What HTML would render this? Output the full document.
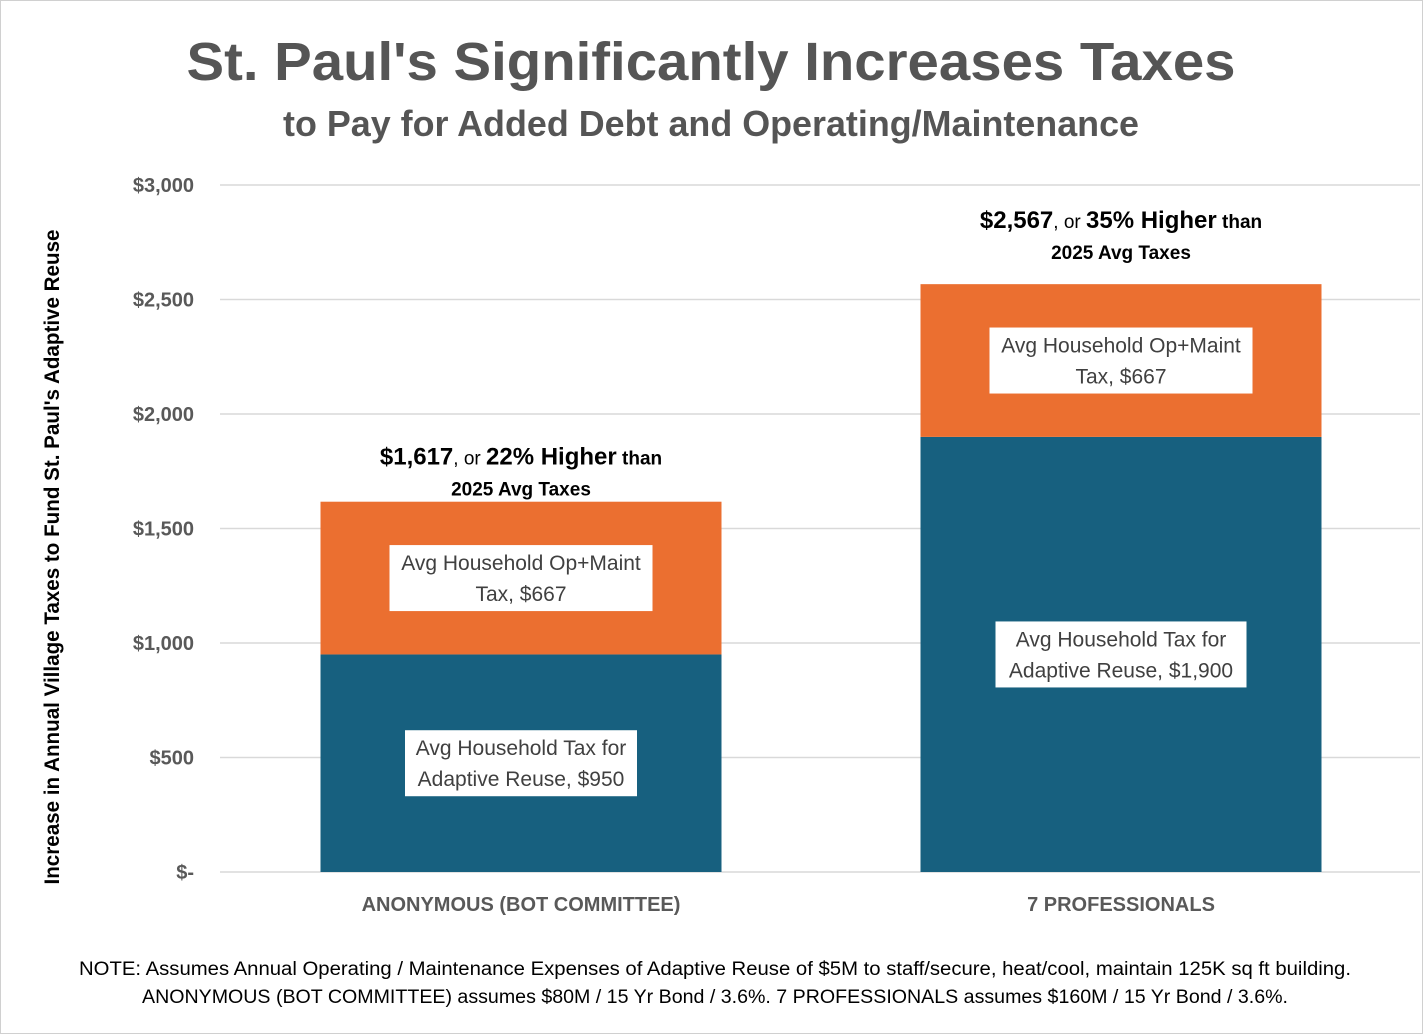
<!DOCTYPE html>
<html><head><meta charset="utf-8"><style>
html,body{margin:0;padding:0;background:#fff;}
svg{display:block;font-family:"Liberation Sans",sans-serif;}
</style></head><body>
<svg id="chart" width="1423" height="1034" viewBox="0 0 1423 1034" xmlns="http://www.w3.org/2000/svg">
<rect x="0.5" y="0.5" width="1422" height="1033" fill="#fff" stroke="#d0d0d0"/>
<text x="711" y="80" text-anchor="middle" font-size="54" font-weight="bold" fill="#555" textLength="1049" lengthAdjust="spacingAndGlyphs">St. Paul's Significantly Increases Taxes</text>
<text x="711" y="136" text-anchor="middle" font-size="36" font-weight="bold" fill="#555" textLength="856" lengthAdjust="spacingAndGlyphs">to Pay for Added Debt and Operating/Maintenance</text>
<g id="grid"></g>
<g id="bars"></g>
<text transform="translate(59,557) rotate(-90)" text-anchor="middle" font-size="21" font-weight="600" fill="#000" textLength="655" lengthAdjust="spacingAndGlyphs">Increase in Annual Village Taxes to Fund St. Paul's Adaptive Reuse</text>
<text x="715" y="975" text-anchor="middle" font-size="19" fill="#000" textLength="1272" lengthAdjust="spacingAndGlyphs">NOTE: Assumes Annual Operating / Maintenance Expenses of Adaptive Reuse of $5M to staff/secure,  heat/cool, maintain 125K sq ft building.</text>
<text x="715" y="1003" text-anchor="middle" font-size="19" fill="#000" textLength="1146" lengthAdjust="spacingAndGlyphs">ANONYMOUS (BOT COMMITTEE) assumes $80M / 15 Yr Bond / 3.6%.   7 PROFESSIONALS assumes $160M / 15 Yr Bond / 3.6%.</text>
</svg>
<script>
const categories = ["ANONYMOUS (BOT COMMITTEE)", "7 PROFESSIONALS"];
const adaptiveReuse = [950, 1900];
const opMaint = [667, 667];
const totals = [1617, 2567];
const pctHigher = ["22%", "35%"];
const yTicks = [0, 500, 1000, 1500, 2000, 2500, 3000];
const yTickLabels = ["$-", "$500", "$1,000", "$1,500", "$2,000", "$2,500", "$3,000"];

const NS = "http://www.w3.org/2000/svg";
const y0 = 872, pxPer = 687/3000;
const y = v => y0 - v*pxPer;
const bandStart = 220, bandW = 600, barW = 401;
const xc = i => bandStart + bandW*i + bandW/2 + 1;
function mk(tag, attrs, parent){const e=document.createElementNS(NS,tag);for(const k in attrs)e.setAttribute(k,attrs[k]);parent.appendChild(e);return e;}
const grid=document.getElementById('grid'), bars=document.getElementById('bars');
yTicks.forEach((t,i)=>{
  const l=mk('line',{x1:220,x2:1420,y1:y(t),y2:y(t),stroke:'#d9d9d9','stroke-width':1.5},grid);
  
  
  const tx=mk('text',{x:194,y:y(t)+7,'text-anchor':'end','font-size':20,'font-weight':'bold',fill:'#595959'},grid);
  tx.textContent=yTickLabels[i];
  
  
});
function label(cx, cy, w, lines, name){
  const g=mk('g',{},bars);
  
  
  mk('rect',{x:cx-w/2,y:cy-33,width:w,height:66,fill:'#fff'},g);
  lines.forEach((s,k)=>{const t=mk('text',{x:cx,y:cy-8+k*31,'text-anchor':'middle','font-size':21,fill:'#404040'},g);t.textContent=s;});
}
categories.forEach((c,i)=>{
  const x=xc(i)-barW/2;
  const b1=mk('rect',{x:x,y:y(adaptiveReuse[i]),width:barW,height:y(0)-y(adaptiveReuse[i]),fill:'#17607f'},bars);
  
  
  const top=adaptiveReuse[i]+opMaint[i];
  const b2=mk('rect',{x:x,y:y(top),width:barW,height:y(adaptiveReuse[i])-y(top),fill:'#eb6f30'},bars);
  
  
  label(xc(i), (y(0)+y(adaptiveReuse[i]))/2, i==0?232:251, ["Avg Household Tax for","Adaptive Reuse,  $"+adaptiveReuse[i].toLocaleString('en-US')], 'label-adaptive-reuse');
  label(xc(i), (y(adaptiveReuse[i])+y(top))/2, 263, ["Avg Household Op+Maint","Tax,  $"+opMaint[i]], 'label-op-maint');
  const off = i==0 ? 0 : 19;
  const t1=mk('text',{x:xc(i),y:y(totals[i])-37-off,'text-anchor':'middle',fill:'#000','font-weight':'bold','font-size':24},bars);
  t1.innerHTML='$'+totals[i].toLocaleString('en-US')+'<tspan font-weight="normal" font-size="19">, or </tspan>'+pctHigher[i]+' Higher<tspan font-size="19"> than</tspan>';
  
  
  const t2=mk('text',{x:xc(i),y:y(totals[i])-6-off,'text-anchor':'middle',fill:'#000','font-weight':'bold','font-size':19},bars);
  t2.textContent='2025 Avg Taxes';
  
  
  const cl=mk('text',{x:xc(i),y:911,'text-anchor':'middle','font-size':20,'font-weight':'bold',fill:'#595959'},bars);
  cl.textContent=c;
  
  
});
</script>
</body></html>
